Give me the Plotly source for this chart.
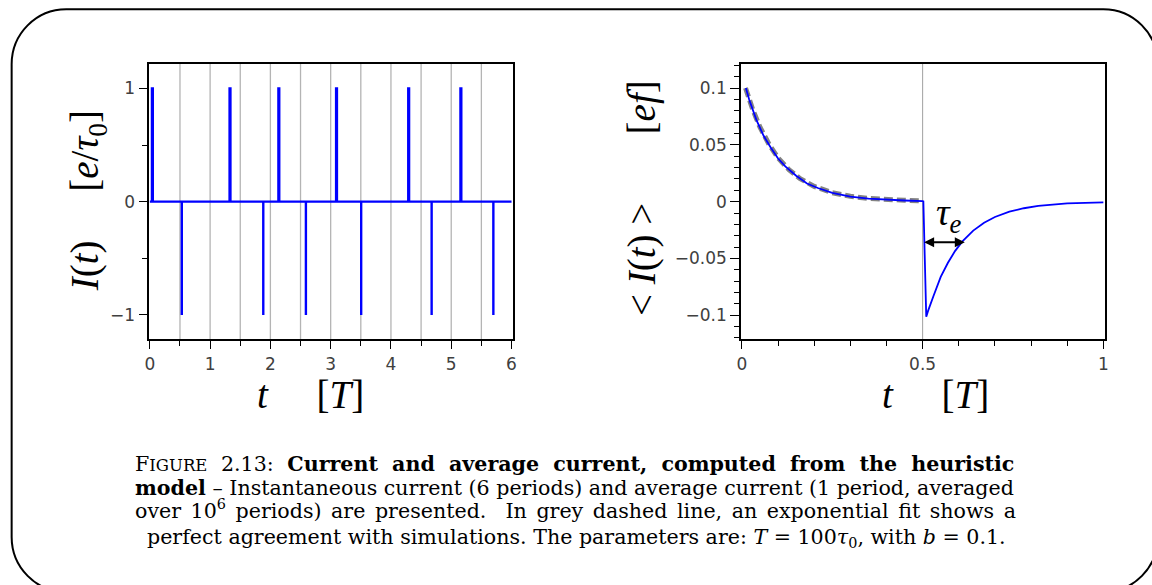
import plotly.graph_objects as go

# ---------------- data ----------------
spike_up_t = [0.035, 1.323, 2.133, 3.09, 4.287, 5.153]
spike_down_t = [0.53, 1.882, 2.589, 3.506, 4.675, 5.699]
pulse_width = 0.014
period_marks = [0.5, 1.0, 1.5, 2.0, 2.5, 3.0, 3.5, 4.0, 4.5, 5.0, 5.5]

avg_t = [0.011, 0.02, 0.04, 0.06, 0.08, 0.1, 0.12, 0.15, 0.18, 0.21, 0.25, 0.3,
         0.35, 0.4, 0.45, 0.5, 0.502, 0.51, 0.515, 0.53, 0.55, 0.57, 0.59, 0.61,
         0.64, 0.67, 0.70, 0.74, 0.78, 0.82, 0.86, 0.90, 0.95, 1.0]
avg_i = [0.1, 0.09, 0.072, 0.058, 0.0475, 0.038, 0.031, 0.0228, 0.016, 0.012,
         0.0078, 0.0045, 0.0027, 0.0016, 0.001, 0.0005, 0.0003, -0.1014, -0.0962,
         -0.0831, -0.0663, -0.0538, -0.0433, -0.035, -0.0255, -0.0185, -0.0135,
         -0.0088, -0.0058, -0.0038, -0.0025, -0.0016, -0.001, -0.0006]

fit_t = [0.01, 0.03, 0.05, 0.075, 0.1, 0.13, 0.16, 0.2, 0.25, 0.3, 0.35, 0.4, 0.45, 0.5]
fit_i = [0.1, 0.081, 0.0655, 0.0505, 0.0385, 0.0282, 0.0205, 0.0134, 0.0079,
         0.0047, 0.0029, 0.0018, 0.0012, 0.0008]

tau_e_start, tau_e_end, tau_e_level = 0.5, 0.6166, -0.0358

left_yticks = [-1, 0, 1]
left_yticktext = ["\u22121", "0", "1"]
right_yticks = [-0.1, -0.05, 0, 0.05, 0.1]
right_yticktext = ["\u22120.1", "\u22120.05", "0", "0.05", "0.1"]
right_xticks = [0, 0.5, 1]
right_xticktext = ["0", "0.5", "1"]

caption_lines = [
    "<span style='word-spacing:7px'>F<span style='font-size:16.5px'>IGURE</span> 2.13: <b>Current and average current, computed from the heuristic</b></span>",
    "<b>model</b> \u2013 Instantaneous current (6 periods) and average current (1 period, averaged",
    "<span style='word-spacing:3px'>over 10<sup>6</sup> periods) are presented.  In grey dashed line, an exponential fit shows a</span>",
    "perfect agreement with simulations. The parameters are: <i>T</i> = 100<i>\u03c4</i><sub>0</sub>, with <i>b</i> = 0.1.",
]

# ---------------- build instantaneous current signal ----------------
events = sorted([(t, 1) for t in spike_up_t] + [(t, -1) for t in spike_down_t])
sx, sy = [0.0], [0.0]
for t, s in events:
    w = pulse_width if s > 0 else 0.0
    sx += [t, t, t + w, t + w]
    sy += [0, s, s, 0]
sx.append(6.0)
sy.append(0.0)

W, H = 1152, 585


def px(x):
    return x / W


def py(y):
    return 1 - y / H


fig = go.Figure()
fig.add_trace(go.Scatter(x=sx, y=sy, mode="lines", line=dict(color="#0000ff", width=2.4),
                         xaxis="x", yaxis="y", hoverinfo="skip", showlegend=False))
fig.add_trace(go.Scatter(x=fit_t, y=fit_i, mode="lines",
                         line=dict(color="rgba(100,100,100,0.8)", width=5, dash="9px,4px"),
                         xaxis="x2", yaxis="y2", hoverinfo="skip", showlegend=False))
fig.add_trace(go.Scatter(x=avg_t, y=avg_i, mode="lines", line=dict(color="#0000ff", width=1.8),
                         xaxis="x2", yaxis="y2", hoverinfo="skip", showlegend=False))

tickfont = dict(family="DejaVu Sans", size=17, color="#404040")
axis_common = dict(showline=True, linecolor="black", linewidth=2, mirror=True,
                   ticks="outside", tickcolor="black", tickwidth=1.3, showgrid=False,
                   zeroline=False, tickfont=tickfont, fixedrange=True)

dom_y = [py(339.3), py(64)]
fig.update_layout(
    width=W, height=H, margin=dict(l=0, r=0, t=0, b=0),
    paper_bgcolor="white", plot_bgcolor="white", showlegend=False,
    xaxis=dict(domain=[px(144.7), px(512.5)], range=[-0.021, 6.033], anchor="y",
               tickvals=[0, 1, 2, 3, 4, 5, 6], ticklen=8,
               minor=dict(dtick=0.5, tick0=0, ticklen=5, tickcolor="black", ticks="outside"),
               **axis_common),
    yaxis=dict(domain=dom_y, range=[-1.215, 1.215], anchor="x",
               tickvals=left_yticks, ticktext=left_yticktext, ticklen=8,
               minor=dict(dtick=0.5, tick0=0, ticklen=5, tickcolor="black", ticks="outside"),
               **axis_common),
    xaxis2=dict(domain=[px(742), px(1108.6)], range=[-0.002, 1.0044], anchor="y2",
                tickvals=right_xticks, ticktext=right_xticktext, ticklen=8,
                minor=dict(dtick=0.1, tick0=0, ticklen=5, tickcolor="black", ticks="outside"),
                **axis_common),
    yaxis2=dict(domain=dom_y, range=[-0.1212, 0.1212], anchor="x2",
                tickvals=right_yticks, ticktext=right_yticktext, ticklen=9,
                minor=dict(dtick=0.01, tick0=0, ticklen=5, tickcolor="black", ticks="outside"),
                **axis_common),
)

shapes = []
for i, m in enumerate(period_marks):
    shapes.append(dict(type="line", xref="x", yref="y domain", x0=m, x1=m, y0=0, y1=1,
                       line=dict(color="#b4b4b4", width=1.3), layer="below"))
shapes.append(dict(type="line", xref="x2", yref="y2 domain", x0=0.5, x1=0.5, y0=0, y1=1,
                   line=dict(color="#a0a0a0", width=1), layer="below"))

# rounded frame around the figure
x0, y0, x1, y1, r = 6.7, 9.3, 1162, 592, 55
k = 0.5523 * r
path = (
    f"M {px(x0 + r)},{py(y0)} L {px(x1 - r)},{py(y0)} "
    f"C {px(x1 - r + k)},{py(y0)} {px(x1)},{py(y0 + r - k)} {px(x1)},{py(y0 + r)} "
    f"L {px(x1)},{py(y1 - r)} "
    f"C {px(x1)},{py(y1 - r + k)} {px(x1 - r + k)},{py(y1)} {px(x1 - r)},{py(y1)} "
    f"L {px(x0 + r)},{py(y1)} "
    f"C {px(x0 + r - k)},{py(y1)} {px(x0)},{py(y1 - r + k)} {px(x0)},{py(y1 - r)} "
    f"L {px(x0)},{py(y0 + r)} "
    f"C {px(x0)},{py(y0 + r - k)} {px(x0 + r - k)},{py(y0)} {px(x0 + r)},{py(y0)} Z"
)
shapes.append(dict(type="path", xref="paper", yref="paper", path=path,
                   line=dict(color="black", width=2)))
fig.update_layout(shapes=shapes)

mathfont = dict(family="Liberation Serif", size=39, color="black")
ann = []
ann.append(dict(xref="paper", yref="paper", x=px(83), y=py(201), textangle=-90,
                text="<i>I</i>(<i>t</i>)\u2003 [<i>e</i>/<i>\u03c4</i><sub>0</sub>]",
                showarrow=False, font=mathfont, xanchor="center", yanchor="middle"))
ann.append(dict(xref="paper", yref="paper", x=px(308), y=py(394),
                text="<i>t</i>\u2003 [<i>T</i>]",
                showarrow=False, font=mathfont, xanchor="center", yanchor="middle"))
ann.append(dict(xref="paper", yref="paper", x=px(642), y=py(198), textangle=-90,
                text="&lt; <i>I</i>(<i>t</i>) &gt;\u2003\u2002 [<i>ef</i>]",
                showarrow=False, font=mathfont, xanchor="center", yanchor="middle"))
ann.append(dict(xref="paper", yref="paper", x=px(938), y=py(394),
                text="<i>t</i>\u2003 [<i>T</i>]",
                showarrow=False, font=mathfont, xanchor="center", yanchor="middle"))
ann.append(dict(xref="paper", yref="paper", x=px(951), y=py(215),
                text="<i>\u03c4</i><sub><i>e</i></sub>",
                showarrow=False, font=dict(family="Liberation Serif", size=38, color="black"),
                xanchor="center", yanchor="middle"))
ann.append(dict(xref="x2", yref="y2", x=tau_e_end, y=tau_e_level,
                ax=tau_e_start, ay=tau_e_level, axref="x2", ayref="y2", text="",
                showarrow=True, arrowside="end+start", arrowhead=2, startarrowhead=2,
                arrowsize=1, startarrowsize=1, arrowwidth=2, arrowcolor="black",
                standoff=0, startstandoff=0))

capfont = dict(family="DejaVu Serif", size=20.6, color="black")
cap_y = [464, 488, 509, 538]
for i, line in enumerate(caption_lines):
    if i < 3:
        ann.append(dict(xref="paper", yref="paper", x=px(129), y=py(cap_y[i]), text=line,
                        showarrow=False, font=capfont, xanchor="left", yanchor="middle"))
    else:
        ann.append(dict(xref="paper", yref="paper", x=px(576), y=py(cap_y[i]), text=line,
                        showarrow=False, font=capfont, xanchor="center", yanchor="middle"))
fig.update_layout(annotations=ann)

fig.write_html("out.html", config={"displayModeBar": False},
               post_script="document.body.style.margin='0px';document.body.style.overflow='hidden';")
